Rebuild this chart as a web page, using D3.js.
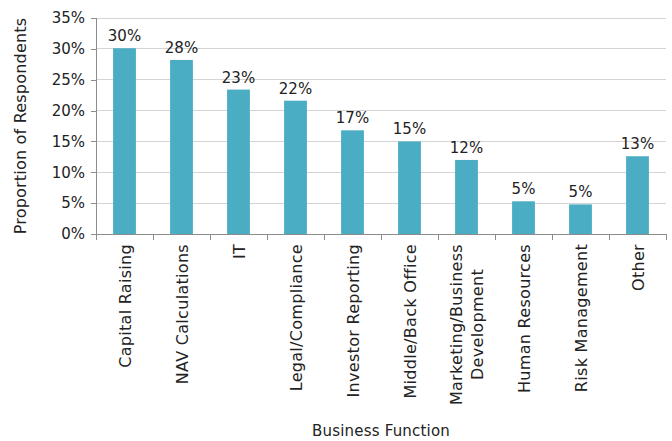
<!DOCTYPE html>
<html>
<head>
<meta charset="utf-8">
<script src="https://cdn.jsdelivr.net/npm/d3@7"></script>
<style>
  html, body { margin: 0; padding: 0; background: #fff; }
  svg { display: block; }
  text { font-family: "DejaVu Sans", sans-serif; fill: #222; }
</style>
</head>
<body>
<svg id="chart" width="672" height="441"></svg>
<script>
// Business functions and share of respondents (fraction of total)
const categories = [
  ["Capital Raising"],
  ["NAV Calculations"],
  ["IT"],
  ["Legal/Compliance"],
  ["Investor Reporting"],
  ["Middle/Back Office"],
  ["Marketing/Business", "Development"],
  ["Human Resources"],
  ["Risk Management"],
  ["Other"]
];
const values = [0.301, 0.282, 0.234, 0.216, 0.168, 0.150, 0.120, 0.053, 0.048, 0.126];
const yTicks = [0, 0.05, 0.10, 0.15, 0.20, 0.25, 0.30, 0.35];
const yTitle = "Proportion of Respondents";
const xTitle = "Business Function";

const svg = d3.select("#chart");
const margin = { left: 96, right: 6, top: 18, bottom: 207 };
const W = 672, H = 441;
const x0 = margin.left, x1 = W - margin.right;
const y0 = H - margin.bottom, y1 = margin.top;

const keys = categories.map((c, i) => i);
const x = d3.scaleBand().domain(keys).range([x0, x1]).paddingInner(0.6).paddingOuter(0.3);
const y = d3.scaleLinear().domain([0, 0.35]).range([y0, y1]);
const pct = d3.format(".0%");

// horizontal gridlines
svg.append("g")
  .selectAll("line")
  .data(yTicks.filter(t => t > 0))
  .join("line")
  .attr("x1", x0).attr("x2", x1)
  .attr("y1", d => y(d)).attr("y2", d => y(d))
  .attr("stroke", "#d4d4d4").attr("stroke-width", 1)
  .attr("shape-rendering", "crispEdges");

// y axis
const yAxis = svg.append("g")
  .attr("transform", `translate(${x0},0)`)
  .call(d3.axisLeft(y).tickValues(yTicks).tickFormat(pct).tickSize(5).tickPadding(6));
yAxis.select(".domain").attr("stroke", "#8c8c8c").attr("shape-rendering", "crispEdges");
yAxis.selectAll(".tick line").attr("stroke", "#8c8c8c").attr("shape-rendering", "crispEdges");
yAxis.selectAll(".tick text")
  .style("font-family", "'DejaVu Sans', sans-serif")
  .style("font-size", "15px").attr("fill", "#222");

// bars
svg.append("g")
  .selectAll("rect")
  .data(values)
  .join("rect")
  .attr("x", (d, i) => x(i))
  .attr("width", x.bandwidth())
  .attr("y", d => y(d))
  .attr("height", d => y(0) - y(d))
  .attr("fill", "#4aadc4");

// value labels
svg.append("g")
  .selectAll("text")
  .data(values)
  .join("text")
  .attr("x", (d, i) => x(i) + x.bandwidth() / 2)
  .attr("y", d => y(d) - 7)
  .attr("text-anchor", "middle")
  .style("font-size", "15px")
  .text(d => pct(d));

// x axis with boundary ticks between categories
const step = x.step();
const xg = svg.append("g");
xg.append("line")
  .attr("x1", x0).attr("x2", x1)
  .attr("y1", y0 + 0.5).attr("y2", y0 + 0.5)
  .attr("stroke", "#8c8c8c");
xg.selectAll("line.tk")
  .data(d3.range(categories.length + 1))
  .join("line")
  .attr("class", "tk")
  .attr("x1", i => Math.round(x0 + i * step) + 0.5)
  .attr("x2", i => Math.round(x0 + i * step) + 0.5)
  .attr("y1", y0).attr("y2", y0 + 6)
  .attr("stroke", "#8c8c8c");

// rotated category labels
const lineGap = 21;
categories.forEach((lines, i) => {
  const cx = x(i) + x.bandwidth() / 2;
  const t = svg.append("text")
    .attr("transform", `translate(${cx},${y0 + 10}) rotate(-90)`)
    .attr("text-anchor", "end")
    .style("font-size", "16px")
    .style("letter-spacing", "0.3px");
  lines.forEach((ln, j) => {
    t.append("tspan")
      .attr("x", 0)
      .attr("y", (j - (lines.length - 1) / 2) * lineGap + 6)
      .attr("text-anchor", lines.length > 1 ? "middle" : "end")
      .text(ln);
  });
  if (lines.length > 1) {
    // center multi-line label block on its own longest line
    const longest = d3.max(t.selectAll("tspan").nodes(), n => n.getComputedTextLength());
    t.selectAll("tspan").attr("x", -longest / 2);
  }
});

// axis titles
svg.append("text")
  .attr("transform", `translate(26,${(y0 + y1) / 2}) rotate(-90)`)
  .attr("text-anchor", "middle")
  .style("font-size", "16px")
  .style("letter-spacing", "0.2px")
  .text(yTitle);

svg.append("text")
  .attr("x", (x0 + x1) / 2)
  .attr("y", 436)
  .attr("text-anchor", "middle")
  .style("font-size", "15px")
  .style("letter-spacing", "0.2px")
  .text(xTitle);
</script>
</body>
</html>
